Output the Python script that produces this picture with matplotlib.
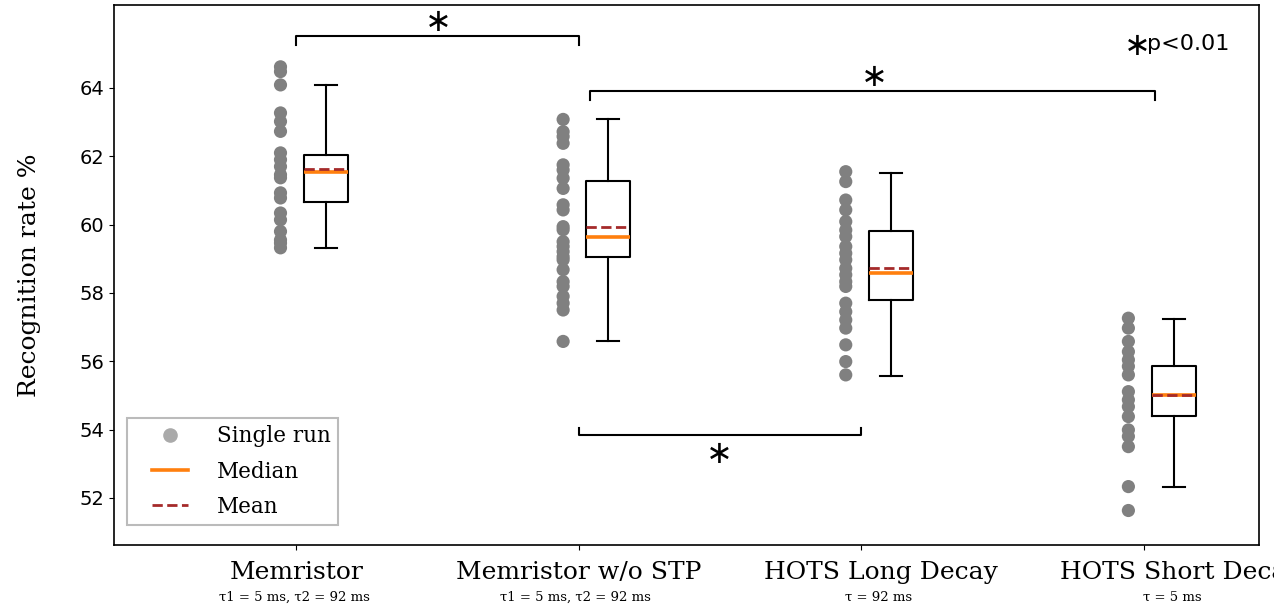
import numpy as np
import matplotlib
matplotlib.use("Agg")
import matplotlib.pyplot as plt
from matplotlib.lines import Line2D
from matplotlib.legend_handler import HandlerLine2D

# ── data ─────────────────────────────────────────────────────────────────────
groups = ["Memristor", "Memristor w/o STP", "HOTS Long Decay", "HOTS Short Decay"]
sublabels = ["τ1 = 5 ms, τ2 = 92 ms", "τ1 = 5 ms, τ2 = 92 ms", "τ = 92 ms", "τ = 5 ms"]

runs_memristor = [64.62, 64.48, 64.09, 63.27, 63.02, 62.73, 62.10, 61.90, 61.70,
                  61.46, 61.37, 60.93, 60.78, 60.34, 60.14, 59.80, 59.55, 59.46, 59.32]
runs_no_stp = [63.08, 62.72, 62.58, 62.38, 61.75, 61.60, 61.36, 61.06, 60.58, 60.43,
               59.94, 59.85, 59.50, 59.36, 59.21, 59.06, 58.97, 58.68, 58.33, 58.19,
               57.90, 57.70, 57.50, 56.58]
runs_long = [61.55, 61.26, 60.72, 60.43, 60.09, 59.84, 59.65, 59.36, 59.16, 58.97,
             58.72, 58.53, 58.33, 58.19, 57.70, 57.45, 57.21, 56.97, 56.48, 55.99, 55.60]
runs_short = [57.26, 56.97, 56.58, 56.28, 56.04, 55.85, 55.60, 55.11, 54.87, 54.67,
              54.38, 53.99, 53.80, 53.50, 52.33, 51.63]
all_runs = [runs_memristor, runs_no_stp, runs_long, runs_short]

# box statistics as drawn in the reference
medians = [61.53, 59.65, 58.57, 55.02]
means = [61.62, 59.94, 58.72, 55.02]
q1s = [60.67, 59.04, 57.80, 54.40]
q3s = [62.04, 61.28, 59.82, 55.86]
whis_lo = [59.32, 56.58, 55.58, 52.33]
whis_hi = [64.09, 63.08, 61.50, 57.23]

# significance brackets: (x start, x end, y, leg y, star x, star y)
brackets = [
    (0.0, 1.0, 65.52, 65.25, 0.495, 65.93),
    (1.04, 3.04, 63.91, 63.65, 2.04, 64.32),
    (1.0, 2.0, 53.84, 54.05, 1.49, 53.26),
]

# label shifts (pixels) seen in the reference
label_shift = [1, 0, 20, 36]
sub_shift = [-2, -3, 17, 28]

SERIF = "DejaVu Serif"

fig = plt.figure(figsize=(12.74, 6.09), dpi=100)
ax = fig.add_axes([0.0895, 0.1051, 0.8987, 0.8867])

pos = np.arange(len(groups))

# single runs
for i, vals in enumerate(all_runs):
    ax.scatter(np.full(len(vals), pos[i] - 0.055), vals, s=90, color="#808080",
               edgecolors="none", zorder=2)

# boxes
stats = []
for i in range(len(groups)):
    stats.append({"med": medians[i], "mean": means[i], "q1": q1s[i], "q3": q3s[i],
                  "whislo": whis_lo[i], "whishi": whis_hi[i], "fliers": []})
ax.bxp(stats, positions=pos + 0.105, widths=0.156, showmeans=True, meanline=True,
       showfliers=False, manage_ticks=False,
       boxprops=dict(color="black", linewidth=1.5),
       whiskerprops=dict(color="black", linewidth=1.5),
       capprops=dict(color="black", linewidth=1.5),
       medianprops=dict(color="#ff7f0e", linewidth=2.6),
       meanprops=dict(color="#a52a2a", linewidth=2.0, linestyle="--"))

# brackets and stars
for x0, x1, y, yleg, sx, sy in brackets:
    ax.plot([x0, x0, x1, x1], [yleg, y, y, yleg], color="black", linewidth=1.5)
    ax.text(sx, sy, r"$\ast$", fontsize=23, ha="center", va="center")

ax.text(2.968, 65.22, r"$\ast$", fontsize=23, ha="center", va="center")
ax.text(3.012, 65.30, "p<0.01", fontsize=16, ha="left", va="center")

ax.set_xlim(-0.644, 3.407)
ax.set_ylim(50.62, 66.43)
ax.set_yticks([52, 54, 56, 58, 60, 62, 64])
ax.tick_params(axis="y", labelsize=14)
ax.set_xticks(pos)
ax.set_xticklabels([])
for i in range(len(groups)):
    ax.annotate(groups[i], xy=(pos[i], 0), xycoords=("data", "axes fraction"),
                xytext=(label_shift[i], -28), textcoords="offset pixels",
                ha="center", va="center", fontsize=18, family=SERIF,
                annotation_clip=False)
    ax.annotate(sublabels[i], xy=(pos[i], 0), xycoords=("data", "axes fraction"),
                xytext=(sub_shift[i], -52), textcoords="offset pixels",
                ha="center", va="center", fontsize=9.5, family=SERIF,
                annotation_clip=False)

ax.set_ylabel("Recognition rate %", fontsize=18, family=SERIF, labelpad=28)
for sp in ax.spines.values():
    sp.set_linewidth(1.2)

handles = [
    Line2D([], [], marker="o", linestyle="none", color="#aaaaaa", markersize=9.5),
    Line2D([], [], color="#ff7f0e", linewidth=2.6),
    Line2D([], [], color="#a52a2a", linewidth=2.0, linestyle="--"),
]
leg = ax.legend(handles, ["Single run", "Median", "Mean"], loc="lower left",
                bbox_to_anchor=(0.0114, 0.037), borderaxespad=0,
                prop={"family": SERIF, "size": 15.5}, fancybox=False,
                edgecolor="#bbbbbb", framealpha=1, handlelength=2.5,
                borderpad=0.33, labelspacing=0.62, handletextpad=1.35,
                handler_map={Line2D: HandlerLine2D(xpad=0.84)})
leg.get_frame().set_linewidth(1.5)

fig.savefig("out.png", dpi=100)
